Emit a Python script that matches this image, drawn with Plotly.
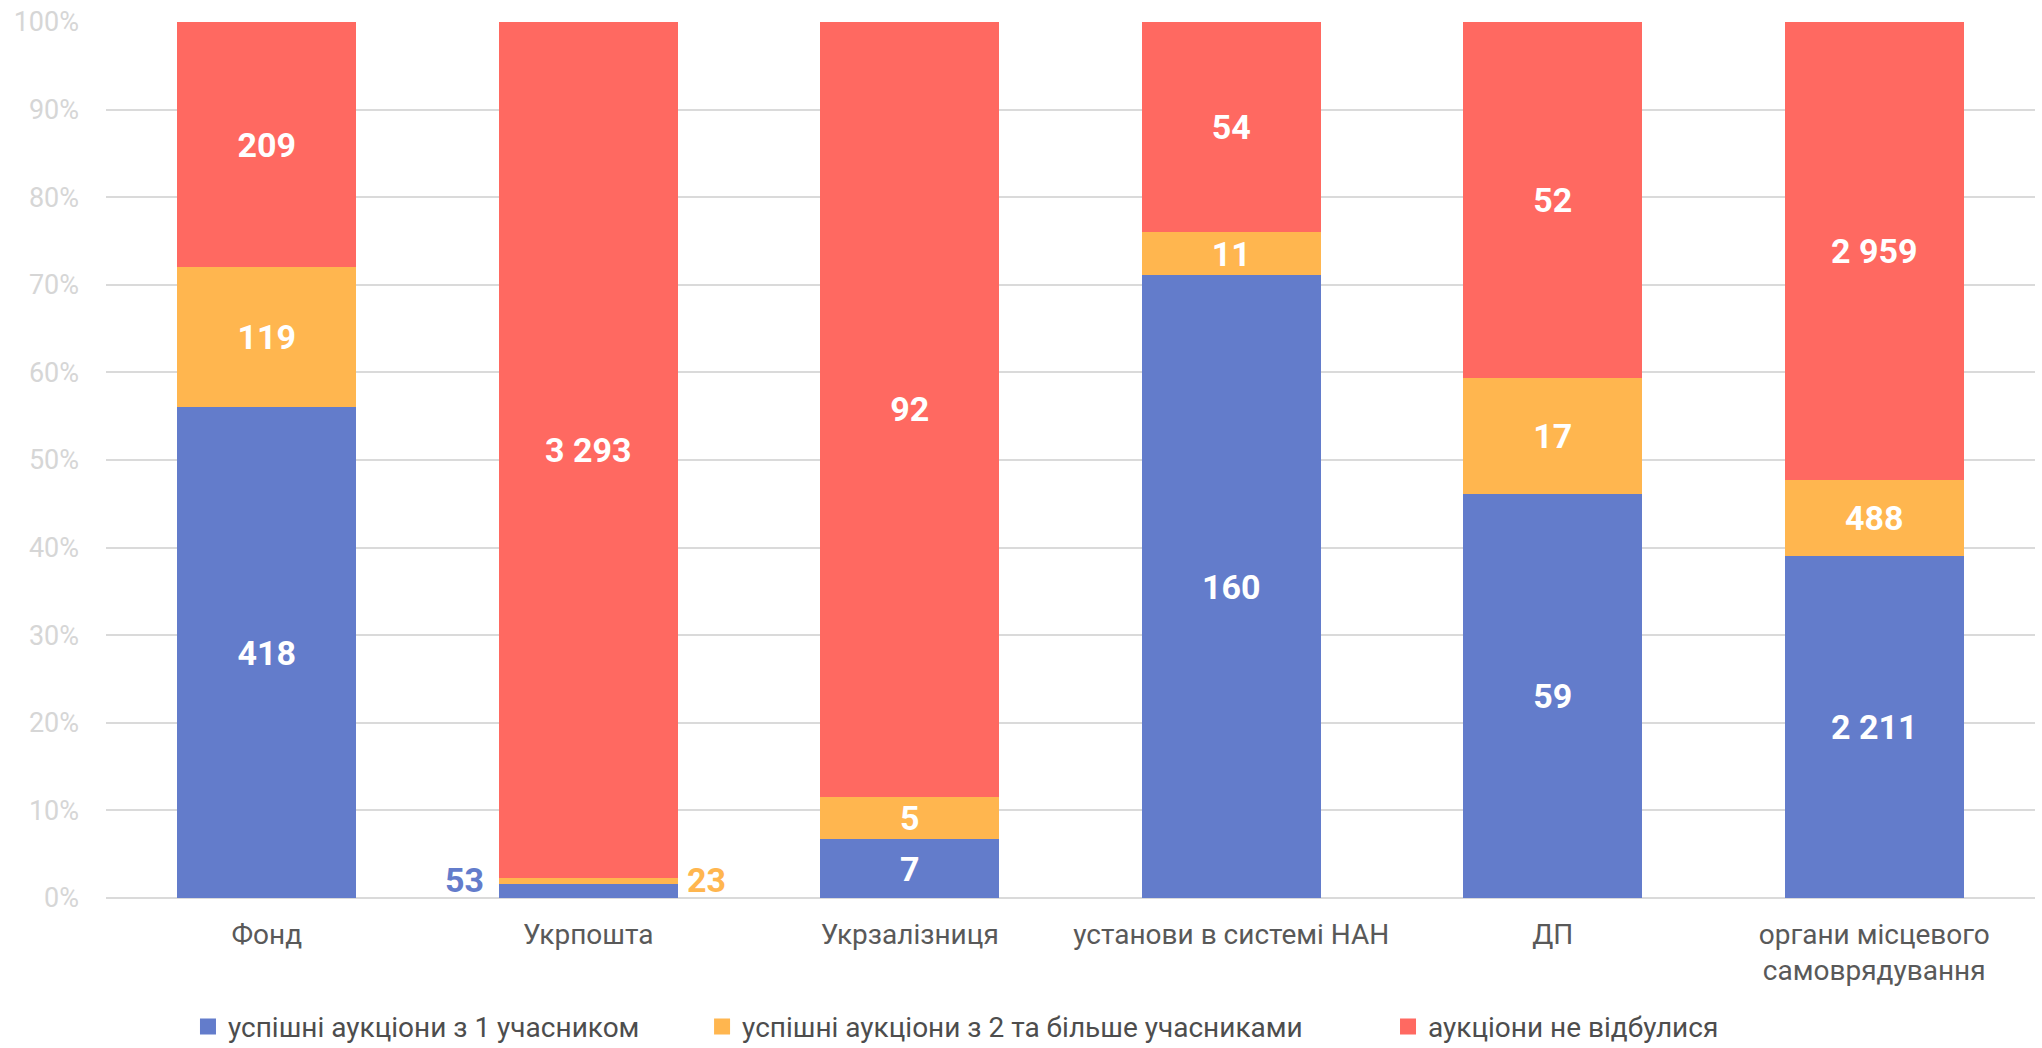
import plotly.graph_objects as go

categories = ["Фонд", "Укрпошта", "Укрзалізниця", "установи в системі НАН", "ДП",
              "органи місцевого<br>самоврядування"]
series_names = ["успішні аукціони з 1 учасником",
                "успішні аукціони з 2 та більше учасниками",
                "аукціони не відбулися"]
one_bidder = [418, 53, 7, 160, 59, 2211]
multi_bidder = [119, 23, 5, 11, 17, 488]
failed = [209, 3293, 92, 54, 52, 2959]
y_ticks = [0, 10, 20, 30, 40, 50, 60, 70, 80, 90, 100]
y_tick_labels = [f"{t}%" for t in y_ticks]

colors = ["#637ccb", "#ffb64f", "#ff6961"]
outside_idx = 1  # Укрпошта: thin segments labelled outside the bar


def fmt(v):
    return f"{v:,}".replace(",", " ")


fig = go.Figure()
legend_ids = ["legend", "legend2", "legend3"]
legend_x = [0.0425, 0.309, 0.6646]
for k, (name, vals, col, side) in enumerate(zip(series_names, [one_bidder, multi_bidder, failed],
                                                 colors, ["left", "right", None])):
    texts = [("" if (i == outside_idx and side is not None) else fmt(v)) for i, v in enumerate(vals)]
    fig.add_trace(go.Bar(
        x=categories, y=vals, name=name, marker=dict(color=col, line=dict(width=0)),
        text=texts, textposition="inside", insidetextanchor="middle", textangle=0,
        constraintext="none",
        textfont=dict(family="Roboto", size=34, color="white", weight="bold"),
        showlegend=False, hoverinfo="skip",
    ))
    fig.add_trace(go.Scatter(
        x=[None], y=[None], mode="markers", name=name, legend=legend_ids[k],
        marker=dict(symbol="square", size=16, color=col), showlegend=True,
    ))
    if side is not None:
        fig.add_annotation(
            x=categories[outside_idx], y=0, yref="y", xref="x",
            text=f"<b>{fmt(vals[outside_idx])}</b>", showarrow=False,
            xanchor="right" if side == "left" else "left", yanchor="bottom",
            xshift=-102 if side == "left" else 97, yshift=-4,
            font=dict(family="Roboto", size=34, color=col),
        )

legend_common = dict(orientation="h", xanchor="left", y=-0.147, yanchor="middle",
                     font=dict(family="Roboto", size=28, color="#4d4d4d"),
                     bgcolor="rgba(0,0,0,0)")
fig.update_layout(
    barmode="stack", barnorm="percent", bargap=0.443,
    width=2042, height=1048,
    margin=dict(l=106, r=7, t=22, b=150, autoexpand=False),
    plot_bgcolor="white", paper_bgcolor="white",
    font=dict(family="Roboto", color="#595959"),
    legend=dict(x=legend_x[0], **legend_common),
    legend2=dict(x=legend_x[1], **legend_common),
    legend3=dict(x=legend_x[2], **legend_common),
    showlegend=True,
)
fig.update_xaxes(showgrid=False, showline=False, ticks="", ticklabelstandoff=17,
                 tickfont=dict(family="Roboto", size=28, color="#595959"))
fig.update_yaxes(range=[0, 100], tickvals=y_ticks, ticktext=y_tick_labels,
                 showgrid=True, gridcolor="#dadada", gridwidth=2,
                 zeroline=True, zerolinecolor="#dadada", zerolinewidth=2,
                 showline=False, ticks="", ticklabelstandoff=26,
                 tickfont=dict(family="Roboto", size=27, color="#d6d6d6"))

fig.write_html("out.html", config={"displayModeBar": False},
               post_script="document.body.style.margin='0';document.body.style.overflow='hidden';")
